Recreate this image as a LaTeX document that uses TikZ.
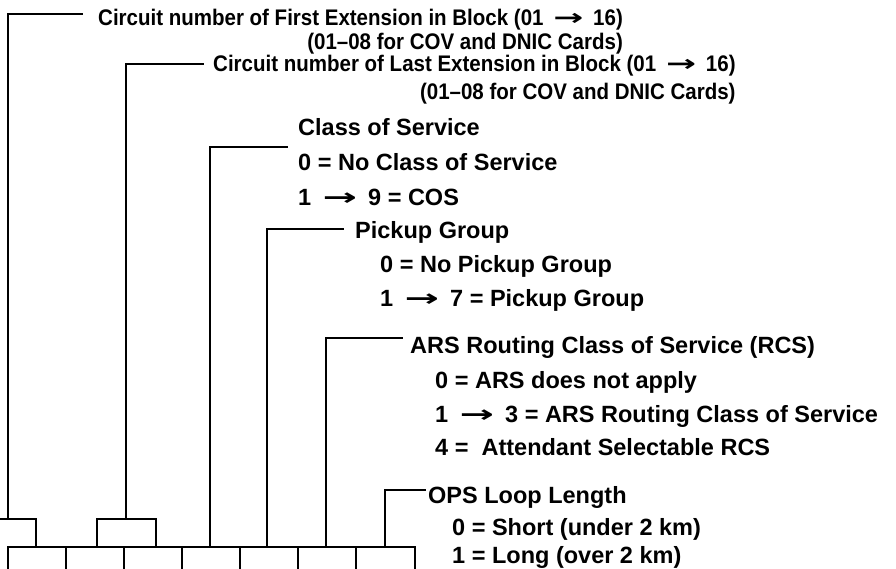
\documentclass[tikz,border=0pt]{standalone}
\usepackage{fontspec}
\usepackage{graphicx}
\setmainfont{Liberation Sans}
\newfontfamily\arrfont{DejaVu Sans}
\newcommand\arr{\hspace{0.2em}\scalebox{1.75}[1.0]{\arrfont\bfseries →}\hspace{0.2em}}
\newcommand\tall[1]{\scalebox{1}[1.1]{#1}}
\tikzset{
  lbl/.style={anchor=base west, inner sep=0pt, font=\fontsize{23.5}{27}\selectfont\bfseries},
  toplbl/.style={lbl, font=\fontsize{20.5}{24}\selectfont\bfseries},
  wire/.style={line width=2.6pt, line cap=rect, line join=miter},
}
\begin{document}
\begin{tikzpicture}[x=1pt,y=-1pt]
\useasboundingbox[fill=white] (0,0) rectangle (896,569);
\clip (0,0) rectangle (896,569);
% texts
\coordinate (y2) at (0,49.5);
\coordinate (y4) at (0,99.5);
\node[toplbl] (t1) at (98,25.5) {\tall{Circuit number of First Extension in Block (01 \arr\ 16)}};
\node[toplbl, anchor=base east] (t2) at (t1.base east |- y2) {\tall{(01–08 for COV and DNIC Cards)}};
\node[toplbl] (t3) at (213,71.5) {\tall{Circuit number of Last Extension in Block (01 \arr\ 16)}};
\node[toplbl, anchor=base east] (t4) at (t3.base east |- y4) {\tall{(01–08 for COV and DNIC Cards)}};
\node[lbl] (c1) at (298,135.5) {Class of Service};
\node[lbl] (c2) at (298,170.5) {0 = No Class of Service};
\node[lbl] (c3) at (298,205.5) {1 \arr\ 9 = COS};
\node[lbl] (p1) at (355,238.5) {Pickup Group};
\node[lbl] (p2) at (380,272.5) {0 = No Pickup Group};
\node[lbl] (p3) at (380,306.5) {1 \arr\ 7 = Pickup Group};
\node[lbl] (a1) at (410,353.5) {ARS Routing Class of Service (RCS)};
\node[lbl] (a2) at (435,388.5) {0 = ARS does not apply};
\node[lbl] (a3) at (435,422.5) {1 \arr\ 3 = ARS Routing Class of Service};
\node[lbl] (a4) at (435,455.5) {4 =\ \ Attendant Selectable RCS};
\node[lbl] (o1) at (428,503) {OPS Loop Length};
\node[lbl] (o2) at (452,535) {0 = Short (under 2 km)};
\node[lbl] (o3) at (452,563) {1 = Long (over 2 km)};
% field row
\coordinate (r0) at (8,547);
\coordinate (r7) at (415,547);
\foreach \i/\x in {0/8,1/66,2/124,3/182,4/240,5/298,6/356}
  \coordinate (k\i) at (\x,547);
\draw[wire] (r0) -- (r7) -- ++(0,30);
\foreach \i in {0,...,6} \draw[wire] (k\i) -- ++(0,30);
% boxes
\coordinate (b1a) at (-5,519); \coordinate (b1b) at (36,519);
\draw[wire] (b1a) -- (b1b) -- (b1b |- r0);
\coordinate (b2a) at (97,519); \coordinate (b2b) at (156,519);
\draw[wire] (b2a |- r0) -- (b2a) -- (b2b) -- (b2b |- r0);
% leaders
\coordinate (e1) at (82,14);
\draw[wire] (8,519) |- (e1);
\coordinate (e2) at (203,64);
\draw[wire] (126,519) |- (e2);
\coordinate (e3) at (287,147);
\draw[wire] (210,547) |- (e3);
\coordinate (e4) at (343,229);
\draw[wire] (267,547) |- (e4);
\coordinate (e5) at (402,338);
\draw[wire] (326,547) |- (e5);
\coordinate (e6) at (425,490);
\draw[wire] (385,547) |- (e6);
\end{tikzpicture}
\end{document}
